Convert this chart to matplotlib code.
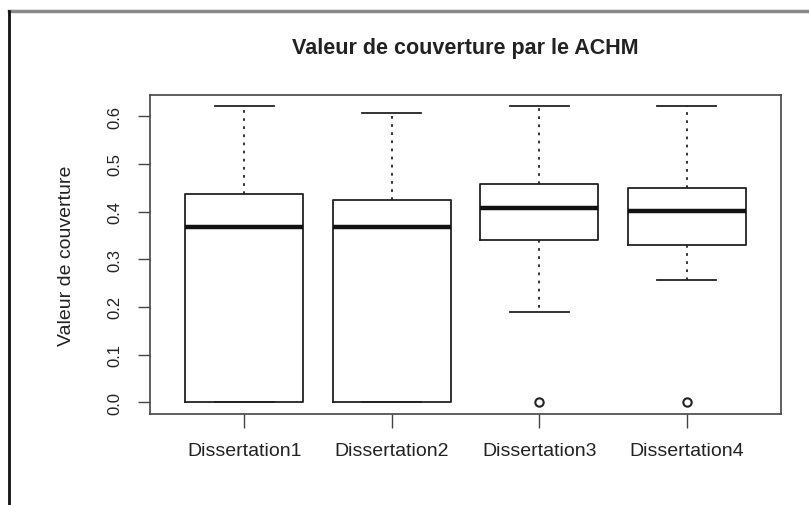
import matplotlib.pyplot as plt
from matplotlib.lines import Line2D

plt.rcParams['font.family'] = ['Liberation Sans', 'DejaVu Sans']

# values
labels = ['Dissertation1', 'Dissertation2', 'Dissertation3', 'Dissertation4']
whisker_low = [0.0, 0.0, 0.189, 0.256]
q1 = [0.0, 0.0, 0.340, 0.330]
medians = [0.367, 0.368, 0.407, 0.401]
q3 = [0.436, 0.424, 0.457, 0.449]
whisker_high = [0.621, 0.606, 0.622, 0.622]
outliers = [[], [], [0.0], [0.0]]
yticks = [0.0, 0.1, 0.2, 0.3, 0.4, 0.5, 0.6]

stats = []
for i, lab in enumerate(labels):
    stats.append({
        'label': lab,
        'whislo': whisker_low[i],
        'q1': q1[i],
        'med': medians[i],
        'q3': q3[i],
        'whishi': whisker_high[i],
        'fliers': outliers[i],
    })

fig = plt.figure(figsize=(8.09, 5.06), dpi=100)
ax = fig.add_axes([150 / 809, 1 - 415 / 506, 631 / 809, 319 / 506])

ink = '#222222'
ax.bxp(stats, positions=[1, 2, 3, 4], widths=0.8, showfliers=True,
       boxprops=dict(color=ink, linewidth=1.3),
       medianprops=dict(color='#111111', linewidth=3.2, solid_capstyle='butt'),
       whiskerprops=dict(color=ink, linewidth=1.3, linestyle=(0, (1.5, 3))),
       capprops=dict(color=ink, linewidth=1.3),
       capwidths=0.4,
       flierprops=dict(marker='o', markersize=6, markerfacecolor='none',
                       markeredgecolor=ink, markeredgewidth=1.5))

ymin, ymax = 0.0, 0.62
pad = (ymax - ymin) * 0.04
ax.set_ylim(ymin - pad, ymax + pad)
ax.set_xlim(0.5 - 0.14, 4.5 + 0.14)

ax.set_yticks(yticks)
ax.set_yticklabels([f'{v:.1f}' for v in yticks], rotation=90, va='center',
                   fontsize=12, color=ink)
ax.set_xticks([1, 2, 3, 4])
ax.set_xticklabels(labels, fontsize=14, color=ink)
ax.tick_params(axis='x', length=10, width=1, color='#444444', pad=10)
ax.tick_params(axis='y', length=9, width=1, color='#444444', pad=11)

for sp in ax.spines.values():
    sp.set_color('#444444')
    sp.set_linewidth(1.2)

ax.set_ylabel('Valeur de couverture', fontsize=14, color=ink, labelpad=23)
ax.set_title('Valeur de couverture par le ACHM', fontsize=15.5, fontweight='bold',
             color=ink, pad=30)

# frame lines around the screenshot
fig.add_artist(Line2D([9 / 809, 1], [1 - 12 / 506, 1 - 12 / 506],
                      color='#888888', linewidth=2.5, transform=fig.transFigure))
fig.add_artist(Line2D([9 / 809, 9 / 809], [0, 1 - 12 / 506],
                      color='#111111', linewidth=2, transform=fig.transFigure))

fig.savefig('out.png', dpi=100)
